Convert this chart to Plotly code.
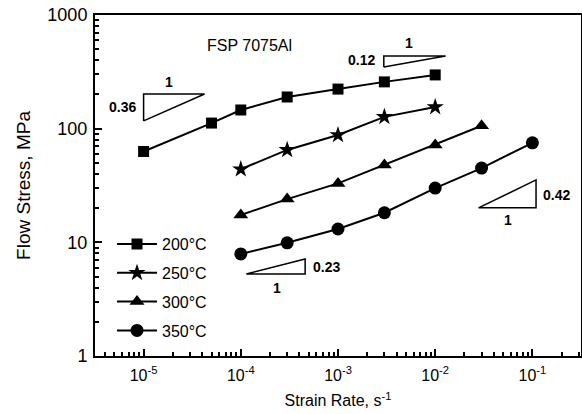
import numpy as np
import plotly.graph_objects as go

# strain rate (1/s) and flow stress (MPa) per test temperature
rate_200 = [1e-5, 5e-5, 1e-4, 3e-4, 1e-3, 3e-3, 1e-2]
stress_200 = [63, 112, 146, 190, 223, 258, 297]

rate_250 = [1e-4, 3e-4, 1e-3, 3e-3, 1e-2]
stress_250 = [44, 65, 88, 127, 155]

rate_300 = [1e-4, 3e-4, 1e-3, 3e-3, 1e-2, 3e-2]
stress_300 = [17.4, 24, 33, 48, 72, 106]

rate_350 = [1e-4, 3e-4, 1e-3, 3e-3, 1e-2, 3e-2, 1e-1]
stress_350 = [7.9, 9.9, 13.1, 18.2, 30, 45, 75]

series = [
    ("200°C", rate_200, stress_200, "square", 11),
    ("250°C", rate_250, stress_250, "star", 13),
    ("300°C", rate_300, stress_300, "triangle-up", 13),
    ("350°C", rate_350, stress_350, "circle", 13),
]

# slope guide triangles (closed outlines) and their labels
guides = [
    ([1e-5, 1e-5, 4.24e-5, 1e-5], [117, 202, 202, 117]),
    ([2.96e-3, 2.96e-3, 1.28e-2, 2.96e-3], [349, 436, 436, 349]),
    ([1.14e-4, 4.59e-4, 4.59e-4, 1.14e-4], [5.27, 5.27, 7.14, 5.27]),
    ([2.79e-2, 0.109, 0.109, 2.79e-2], [20.1, 20.1, 35.4, 20.1]),
]
guide_labels = [
    ("1", 1.81e-5, 258), ("0.36", 6.1e-6, 155),
    ("1", 5.33e-3, 568), ("0.12", 1.76e-3, 402),
    ("1", 2.37e-4, 3.97), ("0.23", 7.53e-4, 6.08),
    ("1", 5.65e-2, 15.7), ("0.42", 0.175, 26.1),
]

x_ticks = [1e-5, 1e-4, 1e-3, 1e-2, 1e-1]
x_ticktext = ["10<sup>-5</sup>", "10<sup>-4</sup>", "10<sup>-3</sup>",
              "10<sup>-2</sup>", "10<sup>-1</sup>"]
y_ticks = [1, 10, 100, 1000]
y_ticktext = ["1", "10", "100", "1000"]

FONT = "Arial, Liberation Sans, sans-serif"

fig = go.Figure()

for i, (name, x, y, sym, size) in enumerate(series):
    fig.add_trace(go.Scatter(
        x=x, y=y, name=name, mode="lines+markers",
        line=dict(color="black", width=2),
        marker=dict(symbol=sym, size=size, color="black"),
        legendgroup=f"g{i}",
    ))

for gx, gy in guides:
    fig.add_trace(go.Scatter(
        x=gx, y=gy, mode="lines", showlegend=False, hoverinfo="skip",
        line=dict(color="black", width=1.5),
    ))

for text, lx, ly in guide_labels:
    fig.add_annotation(
        x=np.log10(lx), y=np.log10(ly), text=f"<b>{text}</b>",
        showarrow=False, font=dict(size=14, color="black", family=FONT),
    )

fig.add_annotation(
    x=np.log10(1.23e-4), y=2.736, text="FSP 7075Al", showarrow=False,
    font=dict(size=16, color="black", family=FONT),
)

minor_x = [m * 10.0 ** e for e in range(-6, 0) for m in range(2, 10)]
minor_y = [m * 10.0 ** e for e in range(0, 3) for m in range(2, 10)]

fig.update_xaxes(
    type="log", range=[-5.5, -0.5], automargin=False,
    tickvals=x_ticks, ticktext=x_ticktext, ticklabelstandoff=4,
    ticks="inside", ticklen=7, tickwidth=1.5, tickcolor="black",
    minor=dict(tickvals=minor_x, ticks="inside", ticklen=4, tickcolor="black", showgrid=False),
    showline=True, linecolor="black", linewidth=2, mirror=True,
    showgrid=False, zeroline=False,
    tickfont=dict(size=16, color="black", family=FONT),
    title=dict(text="Strain Rate, s<sup>-1</sup>", standoff=12,
               font=dict(size=16, color="black", family=FONT)),
)
fig.update_yaxes(
    type="log", range=[0, 3], automargin=False,
    tickvals=y_ticks, ticktext=y_ticktext,
    ticks="inside", ticklen=7, tickwidth=1.5, tickcolor="black",
    minor=dict(tickvals=minor_y, ticks="inside", ticklen=4, tickcolor="black", showgrid=False),
    showline=True, linecolor="black", linewidth=2, mirror=True,
    showgrid=False, zeroline=False, ticklabelstandoff=2,
    tickfont=dict(size=18, color="black", family=FONT),
    title=dict(text="Flow Stress, MPa", standoff=12,
               font=dict(size=19, color="black", family=FONT)),
)

fig.update_layout(
    width=582, height=414,
    margin=dict(l=95, r=1, t=15, b=58),
    paper_bgcolor="white", plot_bgcolor="white",
    font=dict(family=FONT, color="black"),
    legend=dict(
        x=0.035, y=0.378, xanchor="left", yanchor="top",
        bgcolor="rgba(0,0,0,0)", tracegroupgap=5, itemwidth=40,
        font=dict(size=16, color="black", family=FONT),
    ),
)

# drop the page's default body margin so the figure sits at the window origin
fig.write_html(
    "out.html",
    config={"displayModeBar": False},
    post_script="document.body.style.margin='0';",
)
